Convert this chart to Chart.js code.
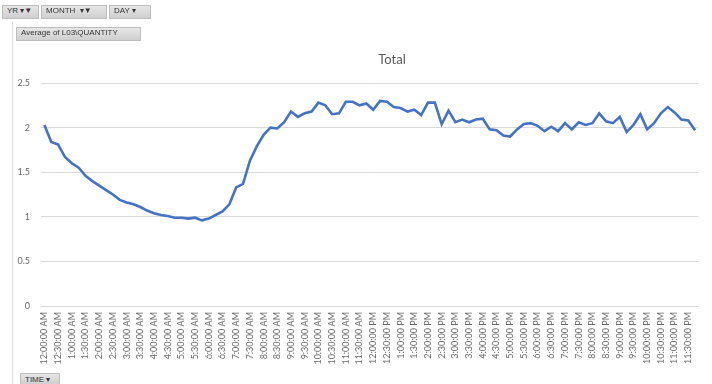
<!DOCTYPE html>
<html>
<head>
<meta charset="utf-8">
<script src="https://cdn.jsdelivr.net/npm/chart.js@4.4.1/dist/chart.umd.min.js"></script>
<style>
  html, body { margin: 0; padding: 0; background: #ffffff; }
  #wrap { position: relative; width: 712px; height: 384px; overflow: hidden; background: #fff; }
  #c { position: absolute; left: 0; top: 0; }
  .btn { position: absolute; height: 14px; line-height: 14px; font: 8px "Liberation Sans", Arial, sans-serif; color: #333;
         background: linear-gradient(#e6e6e6, #cfcfcf); border: 1px solid #bdbdbd; box-sizing: border-box; padding: 0 4px; white-space: nowrap; }
  .vline { position: absolute; left: 12px; top: 22px; width: 1px; height: 362px; background: #dcdcdc; }
</style>
</head>
<body>
<div id="wrap">
  <canvas id="c" width="712" height="384"></canvas>
  <div class="vline"></div>
  <div class="btn" style="left:2px;top:5px;width:37px;">YR &#9662;&#9660;</div>
  <div class="btn" style="left:41px;top:5px;width:66px;">MONTH &nbsp;&#9662;&#9660;</div>
  <div class="btn" style="left:109px;top:5px;width:42px;">DAY &#9662;</div>
  <div class="btn" style="left:16px;top:27px;width:125px;">Average of L03\QUANTITY</div>
  <div class="btn" style="left:20px;top:373px;width:40px;height:12px;line-height:12px;">TIME &#9662;</div>
</div>
<script>
const chartTitle = "Total";
const categories = [
  "12:00:00 AM","12:15:00 AM","12:30:00 AM","12:45:00 AM",
  "1:00:00 AM","1:15:00 AM","1:30:00 AM","1:45:00 AM",
  "2:00:00 AM","2:15:00 AM","2:30:00 AM","2:45:00 AM",
  "3:00:00 AM","3:15:00 AM","3:30:00 AM","3:45:00 AM",
  "4:00:00 AM","4:15:00 AM","4:30:00 AM","4:45:00 AM",
  "5:00:00 AM","5:15:00 AM","5:30:00 AM","5:45:00 AM",
  "6:00:00 AM","6:15:00 AM","6:30:00 AM","6:45:00 AM",
  "7:00:00 AM","7:15:00 AM","7:30:00 AM","7:45:00 AM",
  "8:00:00 AM","8:15:00 AM","8:30:00 AM","8:45:00 AM",
  "9:00:00 AM","9:15:00 AM","9:30:00 AM","9:45:00 AM",
  "10:00:00 AM","10:15:00 AM","10:30:00 AM","10:45:00 AM",
  "11:00:00 AM","11:15:00 AM","11:30:00 AM","11:45:00 AM",
  "12:00:00 PM","12:15:00 PM","12:30:00 PM","12:45:00 PM",
  "1:00:00 PM","1:15:00 PM","1:30:00 PM","1:45:00 PM",
  "2:00:00 PM","2:15:00 PM","2:30:00 PM","2:45:00 PM",
  "3:00:00 PM","3:15:00 PM","3:30:00 PM","3:45:00 PM",
  "4:00:00 PM","4:15:00 PM","4:30:00 PM","4:45:00 PM",
  "5:00:00 PM","5:15:00 PM","5:30:00 PM","5:45:00 PM",
  "6:00:00 PM","6:15:00 PM","6:30:00 PM","6:45:00 PM",
  "7:00:00 PM","7:15:00 PM","7:30:00 PM","7:45:00 PM",
  "8:00:00 PM","8:15:00 PM","8:30:00 PM","8:45:00 PM",
  "9:00:00 PM","9:15:00 PM","9:30:00 PM","9:45:00 PM",
  "10:00:00 PM","10:15:00 PM","10:30:00 PM","10:45:00 PM",
  "11:00:00 PM","11:15:00 PM","11:30:00 PM","11:45:00 PM"
];
const totalValues = [
  2.03,1.84,1.81,1.67,1.60,1.55,1.46,1.40,1.35,1.30,
  1.25,1.19,1.16,1.14,1.11,1.07,1.04,1.02,1.01,0.99,
  0.99,0.98,0.99,0.96,0.98,1.02,1.06,1.14,1.33,1.37,
  1.63,1.79,1.92,2.00,1.99,2.06,2.18,2.12,2.16,2.18,
  2.28,2.25,2.15,2.16,2.29,2.29,2.25,2.27,2.20,2.30,
  2.29,2.23,2.22,2.18,2.20,2.14,2.28,2.28,2.04,2.19,
  2.06,2.09,2.06,2.09,2.10,1.98,1.97,1.91,1.90,1.98,
  2.04,2.05,2.02,1.96,2.01,1.96,2.05,1.98,2.06,2.03,
  2.05,2.16,2.07,2.05,2.12,1.95,2.03,2.15,1.98,2.05,
  2.16,2.23,2.17,2.09,2.08,1.97
];
const yTicks = [0, 0.5, 1, 1.5, 2, 2.5];

const titlePlugin = {
  id: 'excelTitle',
  afterDraw(chart) {
    const ctx = chart.ctx;
    ctx.save();
    ctx.font = '13px Lato, "Liberation Sans", sans-serif';
    ctx.fillStyle = '#595959';
    ctx.textAlign = 'center';
    ctx.textBaseline = 'middle';
    ctx.fillText(chartTitle, 392, 60);
    ctx.restore();
  }
};

new Chart(document.getElementById('c'), {
  type: 'line',
  data: {
    labels: categories,
    datasets: [{
      label: chartTitle,
      data: totalValues,
      borderColor: '#4472C4',
      borderWidth: 2.6,
      pointRadius: 0,
      tension: 0,
      fill: false
    }]
  },
  options: {
    responsive: false,
    animation: false,
    devicePixelRatio: 1,
    layout: { padding: { top: 83, right: 13, bottom: 0, left: 0 } },
    plugins: { legend: { display: false }, title: { display: false }, tooltip: { enabled: false } },
    scales: {
      x: {
        type: 'category',
        offset: true,
        grid: { display: false, drawTicks: false },
        border: { display: false },
        afterFit(scale) { scale.height = 78; },
        ticks: {
          autoSkip: false,
          minRotation: 90,
          maxRotation: 90,
          padding: 6,
          color: '#6a6a6a',
          font: { family: 'Lato, "Liberation Sans", sans-serif', size: 9 },
          callback: (v, i) => (i % 2 === 0 ? categories[i] : '')
        }
      },
      y: {
        min: yTicks[0],
        max: yTicks[yTicks.length - 1],
        afterFit(scale) { scale.width = 41; },
        afterBuildTicks(scale) { scale.ticks = yTicks.map(v => ({ value: v })); },
        grid: { color: '#d9d9d9', lineWidth: 1, drawTicks: false },
        border: { display: false },
        ticks: {
          padding: 11,
          color: '#6a6a6a',
          font: { family: 'Lato, "Liberation Sans", sans-serif', size: 9 },
          callback: v => String(v)
        }
      }
    }
  },
  plugins: [titlePlugin]
});
</script>
</body>
</html>
